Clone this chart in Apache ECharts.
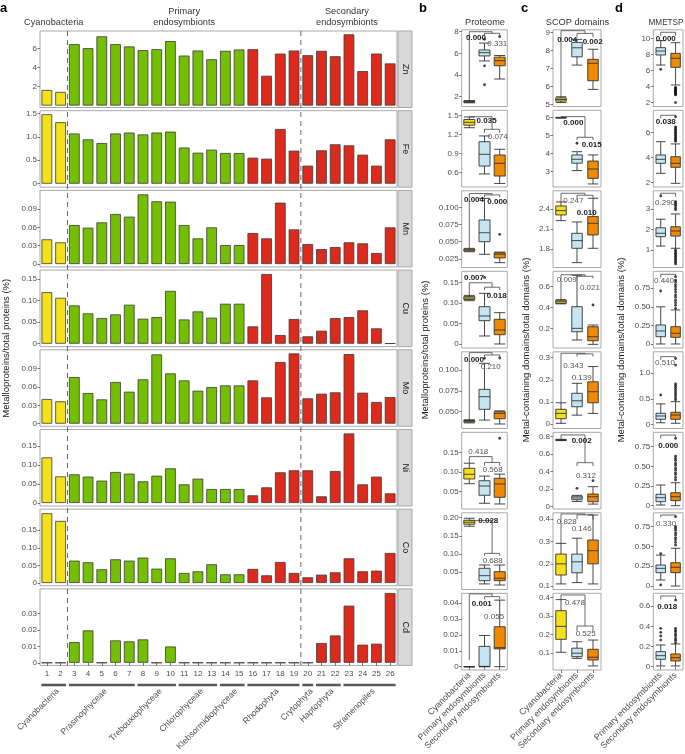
<!DOCTYPE html>
<html><head><meta charset="utf-8">
<script src="https://cdn.jsdelivr.net/npm/echarts@6/dist/echarts.min.js"></script>
<style>html,body{margin:0;padding:0;background:#fff}#c{width:685px;height:754px}</style>
</head><body><div id="c"></div>
<script>
// ---------- Panel a data ----------
const barIds = ['1','2','3','4','5','6','7','8','9','10','11','12','13','14','15','16','17','18','19','20','21','22','23','24','25','26'];
const barGroup = [0,0,1,1,1,1,1,1,1,1,1,1,1,1,1,2,2,2,2,2,2,2,2,2,2,2];
const metals = ['Zn','Fe','Mn','Cu','Mo','Ni','Co','Cd'];
const znValues = [1.64,1.43,6.45,6.03,7.27,6.45,6.21,5.82,5.92,6.77,5.25,5.78,4.86,5.75,5.89,5.92,3.13,5.46,5.78,5.29,5.75,5.18,7.48,3.62,5.46,4.43];
const feValues = [1.48,1.31,1.07,0.945,0.867,1.07,1.09,1.05,1.09,1.11,0.77,0.66,0.725,0.654,0.654,0.554,0.533,1.166,0.704,0.384,0.711,0.839,0.817,0.618,0.384,0.945];
const mnValues = [0.0404,0.0355,0.0638,0.0595,0.0682,0.0818,0.0775,0.114,0.1026,0.102,0.0638,0.042,0.060,0.031,0.031,0.0507,0.042,0.1004,0.0567,0.0327,0.0245,0.0278,0.0355,0.0338,0.018,0.060];
const cuValues = [0.119,0.106,0.0885,0.070,0.0592,0.0677,0.090,0.0577,0.0615,0.122,0.056,0.0746,0.060,0.0923,0.0923,0.040,0.161,0.020,0.057,0.017,0.030,0.0592,0.0615,0.077,0.0354,0.0008];
const moValues = [0.0404,0.0366,0.0764,0.0502,0.0398,0.0682,0.0524,0.0726,0.1135,0.0824,0.0709,0.054,0.060,0.0627,0.0627,0.0709,0.0431,0.101,0.1151,0.0415,0.0491,0.0513,0.114,0.0507,0.0355,0.0436];
const niValues = [0.120,0.070,0.0754,0.0693,0.0588,0.0816,0.0772,0.057,0.0719,0.0912,0.049,0.064,0.0368,0.0368,0.0368,0.0202,0.0412,0.0807,0.086,0.086,0.0175,0.0842,0.183,0.049,0.0693,0.0254];
const coValues = [0.1985,0.1766,0.0636,0.0589,0.039,0.0674,0.0636,0.0722,0.0408,0.0703,0.0285,0.0332,0.0532,0.0247,0.0247,0.040,0.0218,0.0598,0.0285,0.0161,0.0237,0.0304,0.0703,0.0332,0.0351,0.0855];
const cdValues = [0,0,0.0126,0.0197,0,0.0136,0.013,0.0142,0,0.0099,0,0,0,0,0,0,0,0,0,0,0.012,0.0166,0.0347,0.011,0.0116,0.0424];
const aTicks = [['2','4','6'],['0','0.5','1.0','1.5'],['0','0.03','0.06','0.09'],['0','0.05','0.10','0.15'],['0','0.03','0.06','0.09'],['0','0.05','0.10','0.15'],['0','0.05','0.10','0.15'],['0','0.01','0.02','0.03']];
const taxGroups = [['Cyanobacteria',1,2],['Prasinophyceae',3,7],['Trebouxiophyceae',8,10],['Chlorophyceae',11,13],['Klebsormidiophyceae',14,15],['Rhodophyta',16,19],['Crytophyta',20,20],['Haptophyta',21,22],['Stramenopiles',23,26]];

// ---------- Panels b, c, d data ----------
const boxCats3 = ['Cyanobacteria','Primary endosymbionts','Secondary endosymbionts'];
const boxCats2 = ['Primary endosymbionts','Secondary endosymbionts'];
// [min, q1, median, q3, max] per group
const proteomeBoxes = [
 [[1.43,1.48,1.535,1.59,1.64],[5.3,5.76,6.06,6.31,6.95],[3.63,4.85,5.32,5.65,5.8]],
 [[1.31,1.35,1.395,1.44,1.48],[0.58,0.705,0.89,1.089,1.18],[0.43,0.547,0.748,0.879,0.97]],
 [[0.0355,0.0367,0.038,0.0392,0.0404],[0.0318,0.050,0.0631,0.0816,0.113],[0.0196,0.0265,0.032,0.034,0.035]],
 [[0.106,0.109,0.1125,0.116,0.119],[0.0196,0.0571,0.0686,0.0914,0.124],[0,0.0228,0.0343,0.0605,0.0767]],
 [[0.0366,0.0376,0.0385,0.0395,0.0404],[0.04,0.0529,0.068,0.0768,0.108],[0.0353,0.0416,0.048,0.05,0.051]],
 [[0.0705,0.0826,0.0946,0.11,0.123],[0.0203,0.0408,0.0646,0.078,0.09],[0.0185,0.0356,0.0698,0.0844,0.095]],
 [[0.1766,0.182,0.1876,0.193,0.1985],[0.018,0.027,0.0407,0.061,0.07],[0.015,0.027,0.0335,0.0517,0.07]],
 [[0,0,0,0,0],[0,0,0.0002,0.0128,0.0197],[0,0.0112,0.012,0.0252,0.042]]
];
const proteomeOutliers = [
 [[1,7.3],[1,4.85],[1,3.1],[2,7.55]],[],[[2,0.0608]],[[1,0.163]],[[1,0.114],[2,0.1144]],[[2,0.187]],[],[]
];
const proteomeBrackets = [
 [[0,1.5,8.0,1.66,7.85],[1,2,7.85,7.6,7.6]],
 [[0,1.5,1.484,1.48,1.285],[1,2,1.285,1.23,1.23]],
 [[0,1.5,0.120,0.0404,0.118],[1,2,0.118,0.1145,0.1145]],
 [[0,1.5,0.15,0.119,0.139],[1,2,0.139,0.132,0.132]],
 [[0,1.5,0.1208,0.0404,0.118],[1,2,0.118,0.1145,0.1145]],
 [[0,1.5,0.14,0.123,0.125],[1,2,0.125,0.117,0.117]],
 [[0,1.5,0.192,0.192,0.102],[1,2,0.102,0.095,0.095]],
 [[0,1.5,0.0459,0.0042,0.0442],[1,2,0.0442,0.0425,0.0425]]
];
const proteomeLabels = [
 [[0.44,7.45,'0.000',1],[1.84,6.86,'0.331',0]],
 [[1.14,1.416,'0.035',1],[1.87,1.168,'0.074',0]],
 [[0.31,0.1116,'0.004',1],[1.84,0.108,'0.000',1]],
 [[0.31,0.161,'0.007',1],[1.8,0.118,'0.018',1]],
 [[0.31,0.112,'0.000',1],[1.41,0.104,'0.210',0]],
 [[0.59,0.1526,'0.418',0],[1.54,0.1056,'0.568',0]],
 [[1.25,0.1918,'0.028',1],[1.54,0.081,'0.688',0]],
 [[0.82,0.0397,'0.001',1],[1.63,0.0312,'0.055',0]]
];
const proteomeTicks = [['2','4','6','8'],['0.6','0.9','1.2','1.5'],['0.025','0.050','0.075','0.100'],['0','0.05','0.10','0.15'],['0.050','0.075','0.100'],['0.05','0.10','0.15'],['0.05','0.10','0.15','0.20'],['0','0.01','0.02','0.03','0.04']];

const scopBoxes = [
 [[5.1,5.18,5.27,5.36,5.42],[7.18,7.64,8.14,8.44,8.61],[5.83,6.31,7.28,7.5,8.06]],
 [[5.98,5.99,6.0,6.01,6.02],[3.06,3.47,3.69,3.93,4.11],[2.32,2.63,3.15,3.59,3.93]],
 [[2.23,2.315,2.38,2.45,2.51],[1.6,1.815,1.93,2.04,2.21],[1.815,2.015,2.19,2.29,2.565]],
 [[0.435,0.44,0.455,0.47,0.475],[0.088,0.167,0.2,0.408,0.71],[0.046,0.081,0.119,0.215,0.232]],
 [[0.003,0.024,0.048,0.0665,0.096],[0.04,0.078,0.105,0.139,0.184],[0.048,0.096,0.146,0.191,0.26]],
 [[0.755,0.758,0.762,0.766,0.77],[0.06,0.08,0.1,0.12,0.13],[0.03,0.057,0.114,0.145,0.229]],
 [[0.11,0.15,0.2,0.244,0.292],[0.116,0.16,0.209,0.244,0.315],[0.11,0.2,0.259,0.307,0.419]],
 [[0.105,0.175,0.245,0.33,0.39],[0.072,0.081,0.1,0.127,0.162],[0.031,0.063,0.078,0.121,0.171]]
];
const scopOutliers = [[],[[1,4.58]],[],[[2,0.424]],[],[[1,0.21],[2,0.297]],[],[]];
const scopBrackets = [
 [[0,1.5,9.09,5.42,8.94],[1,2,8.94,8.72,8.72]],
 [[0,1.5,6.06,6.02,4.91],[1,2,4.91,4.76,4.76]],
 [[0,1.5,2.64,2.51,2.61],[1,2,2.61,2.565,2.565]],
 [[0,1.5,0.715,0.475,0.70],[1,2,0.70,0.68,0.68]],
 [[0,1.5,0.32,0.096,0.317],[1,2,0.317,0.305,0.305]],
 [[0,1.5,0.82,0.77,0.503],[1,2,0.503,0.465,0.465]],
 [[0,1.5,0.424,0.292,0.42],[1,2,0.42,0.40,0.40]],
 [[0,1.5,0.415,0.39,0.247],[1,2,0.247,0.22,0.22]]
];
const scopLabels = [
 [[0.39,8.61,'0.004',1],[1.98,8.5,'0.002',1]],
 [[0.77,5.69,'0.000',1],[1.92,4.48,'0.015',1]],
 [[0.77,2.529,'0.247',0],[1.61,2.34,'0.010',1]],
 [[0.36,0.671,'0.009',0],[1.81,0.59,'0.021',0]],
 [[0.77,0.262,'0.343',0],[1.29,0.207,'0.139',0]],
 [[1.29,0.751,'0.002',1],[1.56,0.354,'0.312',0]],
 [[0.36,0.389,'0.828',0],[1.29,0.356,'0.146',0]],
 [[0.875,0.373,'0.478',0],[1.54,0.204,'0.525',0]]
];
const scopTicks = [['5','6','7','8','9'],['3','4','5','6'],['1.8','2.1','2.4'],['0.2','0.4','0.6'],['0','0.1','0.2','0.3'],['0','0.2','0.4','0.6','0.8'],['0.1','0.2','0.3','0.4'],['0.1','0.2','0.3','0.4']];

const mmetspBoxes = [
 [[6.71,7.96,8.46,8.88,9.75],[4.21,6.42,7.55,8.17,9.5]],
 [[2.75,3.55,3.87,4.22,5.28],[1.95,3.23,3.55,4.08,5.1]],
 [[1.19,1.65,1.82,2.09,2.51],[1.08,1.68,1.93,2.14,2.77]],
 [[0,0.098,0.175,0.256,0.5],[0,0.09,0.144,0.233,0.458]],
 [[0.03,0.098,0.163,0.216,0.4],[0.02,0.098,0.182,0.235,0.443]],
 [[0.009,0.051,0.102,0.145,0.263],[0,0.064,0.114,0.165,0.292]],
 [[0.076,0.168,0.223,0.265,0.39],[0,0.168,0.236,0.294,0.476]],
 [[0.007,0.073,0.109,0.149,0.215],[0.007,0.056,0.089,0.126,0.225]]
];
const mmetspOutliers = [
 [[0,6.17],[1,3.92],[1,3.83],[1,3.74],[1,3.63],[1,3.55],[1,3.46],[1,3.37],[1,3.27],[1,3.18],[1,3.07],[1,2.97],[1,2.02]],
 [[1,5.31],[1,5.4],[1,5.52],[1,5.61],[1,5.73],[1,5.82],[1,5.94],[1,6.03],[1,6.15],[1,6.24],[1,6.36],[1,6.47],[1,7.28]],
 [[0,3.66],[1,2.98],[1,3.06],[1,3.16],[1,3.23],[1,3.31],[1,3.38],[1,1.0],[1,0.93],[1,0.84],[1,0.77],[1,0.69],[1,0.62],[1,0.54],[1,0.46],[1,0.39],[1,0.31]],
 [[0,0.713],[1,0.48],[1,0.52],[1,0.555],[1,0.59],[1,0.63],[1,0.66],[1,0.7],[1,0.735],[1,0.77],[1,0.8],[1,0.835],[1,0.86],[1,0.906]],
 [[0,0.575],[1,0.48],[1,0.515],[1,0.56],[1,0.6],[1,0.64],[1,0.68],[1,0.72],[1,0.755],[1,0.79],[1,1.16],[1,1.29]],
 [[1,0.327],[1,0.36],[1,0.395],[1,0.42],[1,0.455],[1,0.48],[1,0.515],[1,0.54],[1,0.575],[1,0.6],[1,0.63],[1,0.856]],
 [[0,0.41],[0,0.013],[1,0.517],[1,0.55],[1,0.585],[1,0.61],[1,0.645],[1,0.67],[1,0.705],[1,0.73],[1,0.75],[1,0.875]],
 [[0,0.264],[0,0.304],[0,0.34],[0,0.38],[1,0.238],[1,0.262],[1,0.28],[1,0.305],[1,0.322],[1,0.345],[1,0.36],[1,0.38],[1,0.66]]
];
const mmetspBrackets = [[[0,1,10.8,10.34,10.34]],[[0,1,7.39,7.15,7.15]],[[0,1,3.79,3.62,3.62]],[[0,1,0.938,0.898,0.898]],[[0,1,1.325,1.26,1.26]],[[0,1,0.898,0.856,0.856]],[[0,1,0.896,0.867,0.867]],[[0,1,0.70,0.667,0.667]]];
const mmetspLabels = [[[0.34,9.96,'0.000',1]],[[0.34,6.86,'0.038',1]],[[0.29,3.3,'0.290',0]],[[0.22,0.846,'0.440',0]],[[0.29,1.21,'0.510',0]],[[0.51,0.763,'0.000',1]],[[0.36,0.783,'0.330',0]],[[0.44,0.594,'0.018',1]]];
const mmetspTicks = [['2','4','6','8','10'],['2','4','6'],['1','2','3'],['0','0.25','0.50','0.75'],['0','0.5','1.0'],['0','0.25','0.50','0.75'],['0','0.25','0.50','0.75'],['0','0.2','0.4','0.6']];

// ---------- Layout / style ----------
const FONT = '"Liberation Sans", Arial, sans-serif';
const TXT = '#4d4d4d';
const FRAME = '#a9a9a9';
const barColors = ['#f4e01b','#74bf02','#dc2a1c'];
const boxColors3 = ['#f4e01b','#c6e5f0','#f08a00'];
const boxColors2 = ['#c6e5f0','#f08a00'];
const aLayout = {left:40, width:357, top0:31, pitch:79.7, height:76.5};
const aRanges = [[-0.2,7.83],[-0.075,1.556],[-0.0047,0.1205],[-0.0067,0.170],[-0.0043,0.121],[-0.0079,0.1934],[-0.0077,0.21],[-0.0016,0.0449]];
const colLayout = [{left:461.7,width:45.6,box:11},{left:553,width:48,box:10.5},{left:653.3,width:29.7,box:9.5}];
const bTop0 = 29.8, bPitch = 80.5, bH = 76.7;
const colRanges = [
 [[1.09,8.175],[0.374,1.585],[0.0126,0.124],[-0.0098,0.178],[0.0299,0.1218],[0.0056,0.2023],[0.0027,0.2135],[-0.0021,0.0463]],
 [[4.88,9.14],[2.15,6.41],[1.527,2.677],[0.011,0.748],[-0.0204,0.3267],[-0.026,0.85],[0.085,0.429],[0.009,0.424]],
 [[1.525,11.11],[1.656,7.79],[0.133,3.91],[-0.054,0.978],[-0.082,1.42],[-0.042,0.933],[-0.044,0.924],[-0.033,0.727]]
];

function yAxisFor(gi, range, labels){
  const nums = labels.map(Number);
  return {type:'value', gridIndex:gi, min:range[0], max:range[1],
    splitLine:{show:false}, axisLine:{show:false},
    axisTick:{show:true, length:2.5, customValues:nums, lineStyle:{color:'#555', width:0.8}},
    axisLabel:{customValues:nums, fontSize:8, color:TXT, margin:3, fontFamily:FONT,
      formatter:v=>{const i=nums.findIndex(n=>Math.abs(n-v)<1e-9); return i>=0?labels[i]:'';}}};
}

const grids=[], xAxes=[], yAxes=[], series=[];
const metalValues = [znValues,feValues,mnValues,cuValues,moValues,niValues,coValues,cdValues];
metalValues.forEach((vals,i)=>{
  const top = aLayout.top0 + i*aLayout.pitch;
  grids.push({left:aLayout.left, top, width:aLayout.width, height:aLayout.height, show:true, borderColor:FRAME, borderWidth:1, backgroundColor:'#fff'});
  xAxes.push({type:'category', gridIndex:i, data:barIds, axisLine:{show:false},
    axisTick:{show:i===7, length:3, alignWithLabel:true, interval:0, lineStyle:{color:'#555', width:0.8}},
    axisLabel:{show:i===7, interval:0, fontSize:8, color:TXT, margin:4, fontFamily:FONT}});
  yAxes.push(yAxisFor(i, aRanges[i], aTicks[i]));
  series.push({type:'bar', xAxisIndex:i, yAxisIndex:i, barWidth:'78%', silent:true,
    itemStyle:{borderColor:'#3a3a3a', borderWidth:0.8},
    data: vals.map((v,j)=>({value:v, itemStyle:{color:barColors[barGroup[j]]}}))});
});

const colBoxes = [proteomeBoxes, scopBoxes, mmetspBoxes];
const colOut = [proteomeOutliers, scopOutliers, mmetspOutliers];
const colTicks = [proteomeTicks, scopTicks, mmetspTicks];
const colBr = [proteomeBrackets, scopBrackets, mmetspBrackets];
const colLab = [proteomeLabels, scopLabels, mmetspLabels];
const boxAxisIdx = [];
for (let k=0;k<3;k++){
  boxAxisIdx.push([]);
  for (let i=0;i<8;i++){
    const gi = grids.length;
    boxAxisIdx[k].push(gi);
    const cats = k<2 ? boxCats3 : boxCats2;
    const cols = k<2 ? boxColors3 : boxColors2;
    grids.push({left:colLayout[k].left, top:bTop0+i*bPitch, width:colLayout[k].width, height:bH, show:true, borderColor:FRAME, borderWidth:1, backgroundColor:'#fff'});
    xAxes.push({type:'category', gridIndex:gi, data:cats, axisLine:{show:false},
      axisTick:{show:i===7, length:3, alignWithLabel:true, interval:0, lineStyle:{color:'#555', width:0.8}},
      axisLabel:{show:i===7, interval:0, hideOverlap:false, rotate:45, fontSize:8.8, color:TXT, margin:4, fontFamily:FONT}});
    yAxes.push(yAxisFor(gi, colRanges[k][i], colTicks[k][i]));
    series.push({type:'boxplot', xAxisIndex:gi, yAxisIndex:gi, silent:true,
      boxWidth:[colLayout[k].box, colLayout[k].box],
      itemStyle:{borderColor:'#333', borderWidth:0.9},
      data: colBoxes[k][i].map((b,j)=>({value:b, itemStyle:{color:cols[j], borderColor:'#333'}}))});
    if (colOut[k][i].length) series.push({type:'scatter', xAxisIndex:gi, yAxisIndex:gi, silent:true,
      symbolSize:2.8, itemStyle:{color:'#111'}, data: colOut[k][i]});
  }
}

const chart = echarts.init(document.getElementById('c'));
chart.setOption({animation:false, textStyle:{fontFamily:FONT}, grid:grids, xAxis:xAxes, yAxis:yAxes, series});

// ---------- Annotations (positions derived from the axes) ----------
function px(ax, idx){ const p0=chart.convertToPixel({xAxisIndex:ax},0); const p1=chart.convertToPixel({xAxisIndex:ax},1); return p0+(p1-p0)*idx; }
function py(ax, v){ return chart.convertToPixel({yAxisIndex:ax}, v); }
function txt(x,y,text,opt){ opt=opt||{}; return {type:'text', x, y, rotation:opt.rot||0, silent:true, z:100,
  style:{text, fontSize:opt.size||9, fontFamily:FONT, fontWeight:opt.bold?'bold':'normal', fill:opt.color||'#333',
    align:opt.align||'center', verticalAlign:opt.va||'middle', textAlign:opt.align||'center', textVerticalAlign:opt.va||'middle'}}; }
const g = [];
// panel letters & titles
g.push(txt(0,8,'a',{size:13,bold:true,align:'left',color:'#000'}));
g.push(txt(419,8,'b',{size:13,bold:true,align:'left',color:'#000'}));
g.push(txt(521,8,'c',{size:13,bold:true,align:'left',color:'#000'}));
g.push(txt(615,8,'d',{size:13,bold:true,align:'left',color:'#000'}));
g.push(txt(485,22.5,'Proteome',{size:9.2}));
g.push(txt(577.5,22.5,'SCOP domains',{size:9.2}));
g.push(txt(666,22.5,'MMETSP',{size:8.2}));
// header of panel a
const aTopY = aLayout.top0, aBotY = aLayout.top0 + 7*aLayout.pitch + aLayout.height;
const mid = (a,b)=> (px(0,a)+px(0,b))/2;
g.push(txt(mid(0,1),22.5,'Cyanobacteria',{size:9.2}));
g.push(txt(mid(2,18),11.5,'Primary',{size:9.2}));
g.push(txt(mid(2,18),22.5,'endosymbionts',{size:9.2}));
g.push(txt(mid(19,25)-2,11.5,'Secondary',{size:9.2}));
g.push(txt(mid(19,25)-2,22.5,'endosymbionts',{size:9.2}));
// dashed separators
[[1,2],[18,19]].forEach(([a,b])=>{ const x=(px(0,a)+px(0,b))/2;
  g.push({type:'line', silent:true, z:50, shape:{x1:x,y1:aTopY,x2:x,y2:aBotY}, style:{stroke:'#555', lineWidth:0.9, lineDash:[5,4]}}); });
// strips
metals.forEach((m,i)=>{ const top=aLayout.top0+i*aLayout.pitch;
  g.push({type:'rect', silent:true, shape:{x:aLayout.left+aLayout.width+1, y:top, width:14, height:aLayout.height}, style:{fill:'#d9d9d9', stroke:FRAME, lineWidth:1}});
  g.push(txt(aLayout.left+aLayout.width+8, top+aLayout.height/2, m, {size:9, rot:-Math.PI/2, color:'#1a1a1a'}));
});
// taxonomic group segments + labels
const band = px(0,1)-px(0,0);
taxGroups.forEach(([name,f,l])=>{
  const x1 = px(0,f-1)-band*0.4, x2 = px(0,l-1)+band*0.4;
  g.push({type:'line', silent:true, shape:{x1,y1:685,x2,y2:685}, style:{stroke:'#5a5a5a', lineWidth:2.6}});
  g.push(txt((x1+x2)/2+4, 690, name, {size:8.6, rot:Math.PI/4, align:'right', va:'middle', color:TXT}));
});
// y titles
g.push(txt(6, (aTopY+aBotY)/2, 'Metalloproteins/total proteins (%)', {size:9.5, rot:Math.PI/2, color:'#1a1a1a'}));
const bMid = bTop0 + (7*bPitch+bH)/2;
g.push(txt(425, bMid, 'Metalloproteins/total proteins (%)', {size:9.5, rot:Math.PI/2, color:'#1a1a1a'}));
g.push(txt(526, bMid, 'Metal-containing domains/total domains (%)', {size:9.5, rot:Math.PI/2, color:'#1a1a1a'}));
g.push(txt(621.5, bMid, 'Metal-containing domains/total domains (%)', {size:9.5, rot:Math.PI/2, color:'#1a1a1a'}));
// brackets & p-values
for (let k=0;k<3;k++) for (let i=0;i<8;i++){
  const ax = boxAxisIdx[k][i];
  colBr[k][i].forEach(([a,b,yt,l1,l2])=>{
    g.push({type:'polyline', silent:true, z:60, shape:{points:[[px(ax,a),py(ax,l1)],[px(ax,a),py(ax,yt)],[px(ax,b),py(ax,yt)],[px(ax,b),py(ax,l2)]]},
      style:{stroke:'#444', lineWidth:0.8, fill:null}});
  });
  colLab[k][i].forEach(([x,y,t,b])=>{
    g.push(txt(px(ax,x), py(ax,y), t, {size:8, bold:!!b, color:b?'#1a1a1a':'#555'}));
  });
}
chart.setOption({graphic:{elements:g}});
</script></body></html>
